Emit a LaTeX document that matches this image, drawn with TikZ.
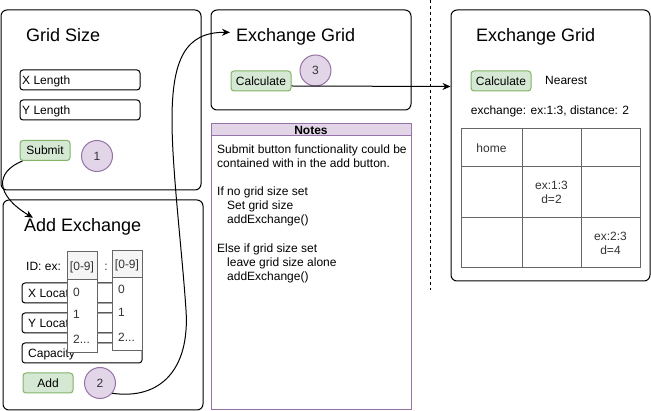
\documentclass[tikz,border=0pt]{standalone}
\usepackage{fontspec}
\setmainfont{Liberation Sans}
\usetikzlibrary{arrows.meta}
\definecolor{btnfill}{HTML}{D5E8D4}
\definecolor{btnline}{HTML}{82B366}
\definecolor{purfill}{HTML}{E1D5E7}
\definecolor{purline}{HTML}{9673A6}
\definecolor{ddfill}{HTML}{F5F5F5}
\definecolor{ddline}{HTML}{666666}
\definecolor{txtgray}{HTML}{333333}
\newcommand{\ftitle}{\fontsize{18pt}{21.6pt}\selectfont}
\newcommand{\fbody}{\fontsize{12pt}{14.1pt}\selectfont}
\begin{document}
\begin{tikzpicture}[x=1pt,y=-1pt,
  panel/.style={draw=black, line width=1pt, rounded corners=6pt, fill=white, inner sep=0pt},
  field/.style={draw=black, line width=1pt, rounded corners=3pt, fill=white, minimum width=120pt, minimum height=20pt, inner sep=0pt},
  txt/.style={font=\fbody, inner sep=0pt, text height=8.6pt, text depth=0pt},
  ttl/.style={font=\ftitle, inner sep=0pt, anchor=base west},
  btn/.style={draw=btnline, fill=btnfill, line width=1pt, rounded corners=3pt, minimum height=20pt, inner sep=0pt, font=\fbody, text height=8.6pt, text depth=0pt},
  badge/.style={circle, draw=purline, fill=purfill, line width=1pt, minimum size=31pt, inner sep=0pt, font=\fbody, text=txtgray, text height=8.6pt, text depth=0pt},
  ddhead/.style={draw=ddline, fill=ddfill, line width=1pt, minimum width=30pt, inner sep=0pt, font=\fbody, text=txtgray, text height=8.6pt, text depth=0pt},
  ddlist/.style={draw=ddline, fill=white, line width=1pt, minimum width=30pt, inner sep=0pt},
  dditem/.style={font=\fbody, text=txtgray, inner sep=0pt, anchor=base west},
  cell/.style={draw=ddline, line width=1pt, inner sep=0pt, align=center, font=\fbody, text=txtgray},
  conn/.style={draw=black, line width=1pt, -{Stealth[length=8pt,width=7pt]}},
]
\useasboundingbox (0,0) rectangle (651,411);

% ---------- Grid Size panel ----------
\node[panel, minimum width=200pt, minimum height=180pt] (gs) at (101,100) {};
\node[ttl] (t1) at (26,42) {Grid Size};
\node[field] (xl) at (80,80) {};
\node[txt, anchor=base west] (xlt) at (22,84.3) {X Length};
\node[field] (yl) at (80,110) {};
\node[txt, anchor=base west] (ylt) at (22,114.3) {Y Length};
\node[btn, minimum width=50pt] (sub) at (45,150.5) {Submit};
\node[badge] (c1) at (97,156) {1};

% ---------- Add Exchange panel ----------
\node[panel, minimum width=200pt, minimum height=210pt] (ae) at (103,305) {};
\node[ttl] (t2) at (24,232) {Add Exchange};
\node[txt, anchor=base west] (idt) at (26,271) {ID: ex:};
\node[field] (xloc) at (82,293) {};
\node[txt, anchor=base west] (xloct) at (28,297.3) {X Location};
\node[field] (yloc) at (82,323) {};
\node[txt, anchor=base west] (yloct) at (28,327.3) {Y Location};
\node[field] (cap) at (82,353) {};
\node[txt, anchor=base west] (capt) at (28,357.3) {Capacity};
\node[txt, anchor=base, text=txtgray] (colon) at (106,271) {:};
% dropdown 1
\node[ddlist, minimum height=73pt] (dl1) at (82,316.5) {};
\node[ddhead, minimum height=28pt] (dh1) at (82,266) {[0-9]};
\node[dditem] (d1a) at (73,297) {0};
\node[dditem] (d1b) at (73,319) {1};
\node[dditem] (d1c) at (73,344) {2...};
% dropdown 2
\node[ddlist, minimum height=73pt] (dl2) at (127,314.5) {};
\node[ddhead, minimum height=27pt] (dh2) at (127,264.5) {[0-9]};
\node[dditem] (d2a) at (118,294) {0};
\node[dditem] (d2b) at (118,317) {1};
\node[dditem] (d2c) at (118,342) {2...};
\node[btn, minimum width=50pt] (add) at (48,383) {Add};
\node[badge] (c2) at (100,383) {2};

% ---------- middle Exchange Grid ----------
\node[panel, minimum width=200pt, minimum height=100pt] (mg) at (311,60) {};
\node[ttl] (t3) at (236,42) {Exchange Grid};
\node[btn, minimum width=60pt] (calc1) at (261,81) {Calculate};
\node[badge] (c3) at (315.5,70.5) {3};

% ---------- Notes ----------
\node[draw=purline, fill=white, line width=1pt, minimum width=200pt, minimum height=286pt, inner sep=0pt] (nb) at (311,267) {};
\node[draw=purline, fill=purfill, line width=1pt, minimum width=200pt, minimum height=12pt, inner sep=0pt, font=\fbody\bfseries, text height=8.6pt, text depth=0pt] (nh) at (311,130) {Notes};
\node[font=\fbody, inner sep=0pt, anchor=north west, align=left] (nt) at (217,143.4) {\strut Submit button functionality could be\\
contained with in the add button.\\
\strut\\
If no grid size set\\
\hspace*{10pt}Set grid size\\
\hspace*{10pt}addExchange()\\
\strut\\
Else if grid size set\\
\hspace*{10pt}leave grid size alone\\
\hspace*{10pt}addExchange()};

% ---------- dashed separator ----------
\coordinate (dtop) at (430.5,0);
\coordinate (dbot) at (430.5,290);
\draw[line width=1pt, dash pattern=on 3pt off 3pt] (dtop) -- (dbot);

% ---------- right Exchange Grid ----------
\node[panel, minimum width=199pt, minimum height=271pt] (rb) at (550.5,145.5) {};
\node[ttl] (t4) at (476,42) {Exchange Grid};
\node[btn, minimum width=60pt] (calc2) at (501,81) {Calculate};
\node[txt, anchor=base west] (near) at (545,85) {Nearest};
\node[txt, anchor=base] (exres) at (550,115) {exchange: ex:1:3, distance: 2};
% grid cells
\node[cell, minimum width=61pt, minimum height=38pt] (g11) at (491.5,148) {home};
\node[cell, minimum width=59pt, minimum height=38pt] (g12) at (551.5,148) {};
\node[cell, minimum width=59pt, minimum height=38pt] (g13) at (610.5,148) {};
\node[cell, minimum width=61pt, minimum height=51pt] (g21) at (491.5,192.5) {};
\node[cell, minimum width=59pt, minimum height=51pt] (g22) at (551.5,192.5) {ex:1:3\\d=2};
\node[cell, minimum width=59pt, minimum height=51pt] (g23) at (610.5,192.5) {};
\node[cell, minimum width=61pt, minimum height=50pt] (g31) at (491.5,243) {};
\node[cell, minimum width=59pt, minimum height=50pt] (g32) at (551.5,243) {};
\node[cell, minimum width=59pt, minimum height=50pt] (g33) at (610.5,243) {ex:2:3\\d=4};

% ---------- connectors ----------
\draw[conn] ([xshift=3pt]sub.south west) .. controls (-5,172) and (-5,195) .. ([xshift=9pt,yshift=1pt]t2.north west);
\draw[conn] (c2.-40) .. controls (160,400) and (190,370) .. (186,310)
  .. controls (182,250) and (172,170) .. (172,120)
  .. controls (172,60) and (185,32) .. ([xshift=-6pt,yshift=5pt]t3.west);
\draw[conn] ([yshift=-5pt]calc1.east) -- ([yshift=-77pt]rb.north west);
\end{tikzpicture}
\end{document}
